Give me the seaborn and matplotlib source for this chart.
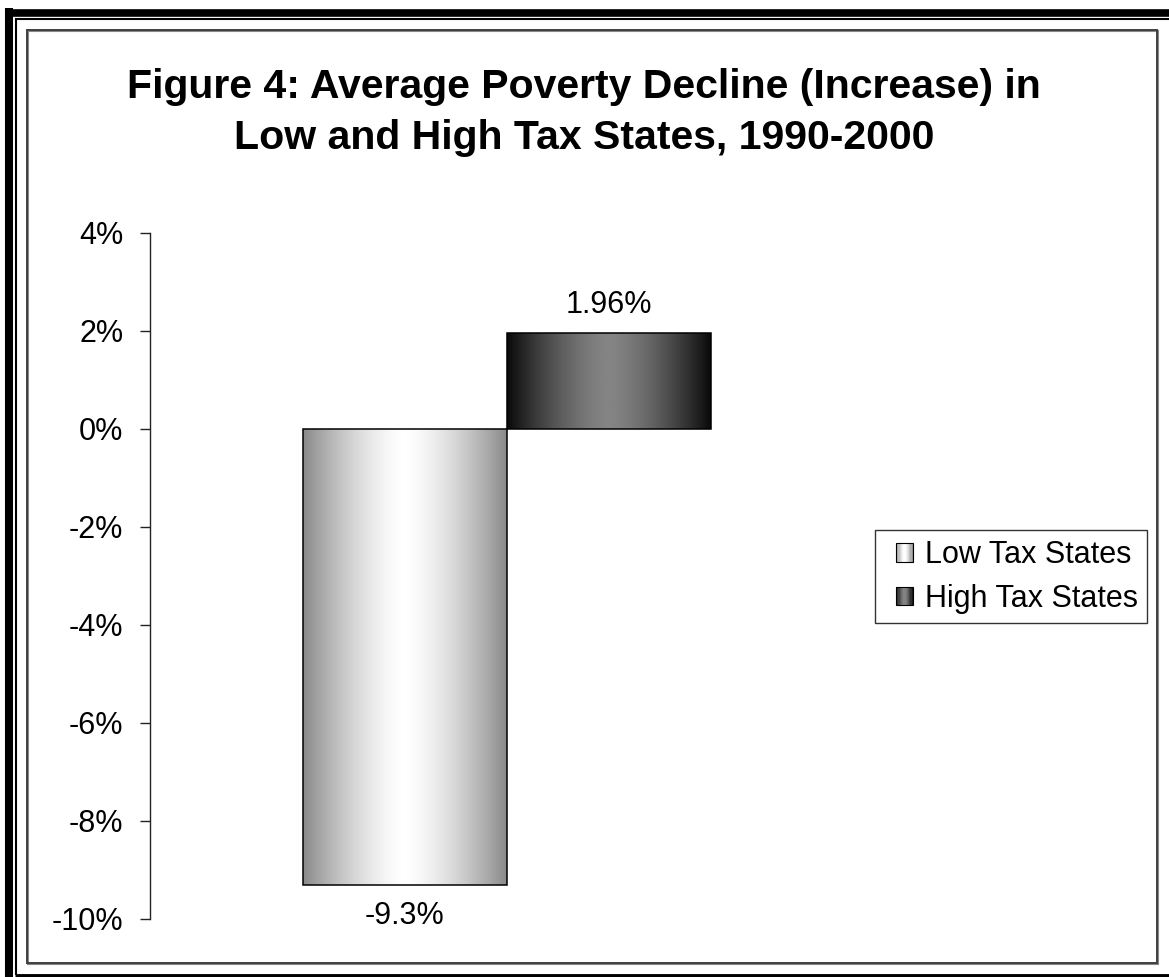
import numpy as np
import pandas as pd
import matplotlib
matplotlib.use("Agg")
import matplotlib.pyplot as plt
import seaborn as sns
from matplotlib.patches import Rectangle
from matplotlib.lines import Line2D
from matplotlib.legend_handler import HandlerBase
from matplotlib.colors import LinearSegmentedColormap, to_rgb

# ---- data ----
series = ["Low Tax States", "High Tax States"]
values = [-9.3, 1.96]
value_labels = ["-9.3%", "1.96%"]
y_ticks = [-10, -8, -6, -4, -2, 0, 2, 4]
title_lines = ["Figure 4: Average Poverty Decline (Increase) in",
               "Low and High Tax States, 1990-2000"]

# gradient colours (edge, centre) for each series
grad = {"Low Tax States": ("#8a8a8a", "#ffffff"),
        "High Tax States": ("#0a0a0a", "#848484")}

sns.set_theme(style="white")
plt.rcParams["font.family"] = ["Liberation Sans", "DejaVu Sans"]
plt.rcParams["text.color"] = "black"
plt.rcParams["axes.labelcolor"] = "black"
plt.rcParams["xtick.color"] = "black"
plt.rcParams["ytick.color"] = "black"

W, H = 1169, 977
fig = plt.figure(figsize=(W / 100, H / 100), dpi=100)
fig.patch.set_facecolor("white")

def fx(px):
    return px / W

def fy(py):
    return 1 - py / H

ax = fig.add_axes([fx(150), fy(919), fx(864) - fx(150), fy(233) - fy(919)])

df = pd.DataFrame({"grp": [""] * len(series), "series": series, "value": values})
sns.barplot(data=df, x="grp", y="value", hue="series", hue_order=series,
            palette=["#cccccc", "#444444"], width=0.8, ax=ax, legend=False,
            edgecolor="black", linewidth=1.1)

ax.set_xlim(-0.7, 0.7)
ax.set_ylim(-10, 4)
ax.set_yticks(y_ticks)
ax.set_yticklabels([f"{t}%" for t in y_ticks])
ax.set_xticks([])
ax.set_xlabel("")
ax.set_ylabel("")
for s in ["top", "right", "bottom"]:
    ax.spines[s].set_visible(False)
ax.spines["left"].set_color("#222222")
ax.spines["left"].set_linewidth(1.0)
ax.tick_params(axis="y", direction="out", length=7.2, width=1.0, color="#222222",
               pad=12, labelsize=22, labelcolor="black", left=True)
ax.set_facecolor("white")

def profile(n=256, p=1.5):
    t = np.linspace(0, 1, n)
    return 1 - np.abs(2 * t - 1) ** p

# gradient fills clipped to bars
for cont, name in zip(ax.containers, series):
    c_edge, c_mid = grad[name]
    cmap = LinearSegmentedColormap.from_list(name, [c_edge, c_mid])
    for bar in cont:
        bar.set_facecolor("none")
        bar.set_zorder(3)
        x0, y0 = bar.get_x(), bar.get_y()
        w, h = bar.get_width(), bar.get_height()
        img = ax.imshow(profile()[None, :], cmap=cmap, vmin=0, vmax=1,
                        extent=[x0, x0 + w, min(y0, y0 + h), max(y0, y0 + h)],
                        aspect="auto", interpolation="bilinear", zorder=2)
        img.set_clip_path(bar)
ax.set_xlim(-0.7, 0.7)
ax.set_ylim(-10, 4)

# value labels
ax.bar_label(ax.containers[0], labels=[value_labels[0]], padding=12, fontsize=22,
             color="black")
ax.bar_label(ax.containers[1], labels=[value_labels[1]], padding=9, fontsize=22,
             color="black")

# legend with gradient handles
class GradHandler(HandlerBase):
    def __init__(self, c_edge, c_mid, n=14):
        super().__init__()
        self.c_edge = np.array(to_rgb(c_edge))
        self.c_mid = np.array(to_rgb(c_mid))
        self.n = n

    def create_artists(self, legend, orig_handle, xdescent, ydescent, width,
                       height, fontsize, trans):
        x0, y0 = -xdescent, -ydescent
        arts = []
        for i in range(self.n):
            t = (i + 0.5) / self.n
            v = 1 - abs(2 * t - 1) ** 1.5
            col = self.c_edge + (self.c_mid - self.c_edge) * v
            r = Rectangle((x0 + i * width / self.n, y0), width / self.n + 0.01, height,
                          facecolor=col, edgecolor="none", transform=trans)
            arts.append(r)
        arts.append(Rectangle((x0, y0), width, height, facecolor="none",
                              edgecolor="black", linewidth=0.8, transform=trans))
        return arts

handles = [Rectangle((0, 0), 1, 1) for _ in series]
handler_map = {h: GradHandler(*grad[n]) for h, n in zip(handles, series)}
leg = fig.legend(handles, series, handler_map=handler_map,
                 loc="center left", bbox_to_anchor=(fx(896), fy(577)),
                 bbox_transform=fig.transFigure, borderaxespad=0, borderpad=0,
                 fontsize=22, frameon=False,
                 handlelength=0.55, handleheight=0.55, handletextpad=0.4,
                 labelspacing=0.45)
for t in leg.get_texts():
    t.set_color("black")
fig.add_artist(Rectangle((fx(875), fy(623)), fx(1147) - fx(875), fy(530) - fy(623),
                         transform=fig.transFigure, facecolor="none",
                         edgecolor="#333333", linewidth=1.0))

# title
fig.text(fx(584), fy(98), title_lines[0], ha="center", va="baseline",
         fontsize=29.5, fontweight="bold", color="black")
fig.text(fx(584), fy(149), title_lines[1], ha="center", va="baseline",
         fontsize=29.5, fontweight="bold", color="black")

# inner frame with shadow
fig.add_artist(Rectangle((fx(28), fy(964)), fx(1158) - fx(28), fy(31) - fy(964),
                         transform=fig.transFigure, facecolor="none",
                         edgecolor="#888888", linewidth=1.5, zorder=0))
fig.add_artist(Rectangle((fx(27), fy(963)), fx(1157) - fx(27), fy(30) - fy(963),
                         transform=fig.transFigure, facecolor="none",
                         edgecolor="#404040", linewidth=1.4, zorder=1))

# outer page-style borders
def hline(y, x0, x1, lw):
    fig.add_artist(Line2D([fx(x0), fx(x1)], [fy(y), fy(y)], transform=fig.transFigure,
                          color="black", linewidth=lw, solid_capstyle="butt"))

def vline(x, y0, y1, lw):
    fig.add_artist(Line2D([fx(x), fx(x)], [fy(y0), fy(y1)], transform=fig.transFigure,
                          color="black", linewidth=lw, solid_capstyle="butt"))

hline(12.5, 5, 1169, 5.5)
hline(19, 15, 1169, 1.5)
vline(9, 8, 977, 5.8)
vline(15.5, 18, 975, 1.5)
hline(975.5, 15, 1169, 3.5)

fig.savefig("out.png", dpi=100, facecolor="white")
